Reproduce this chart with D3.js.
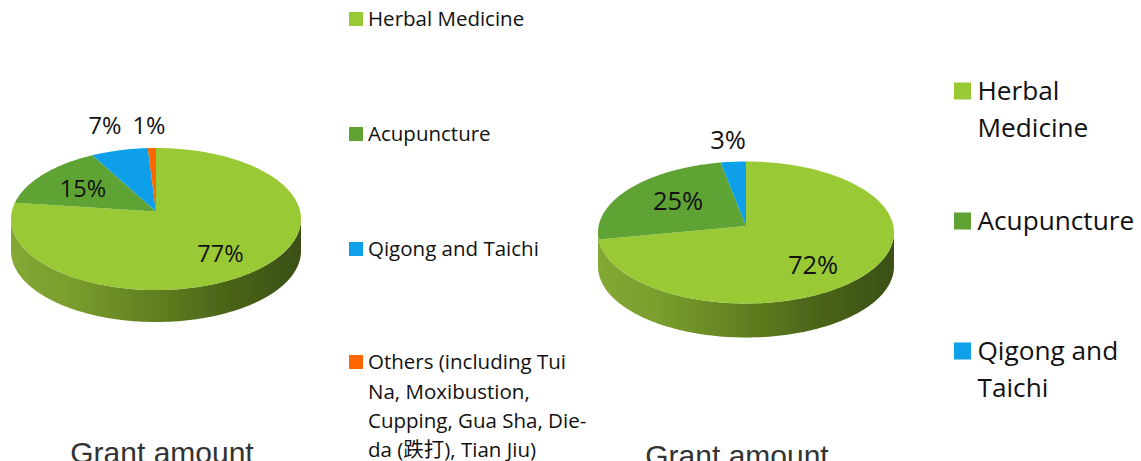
<!DOCTYPE html>
<html><head><meta charset="utf-8">
<script src="https://cdn.jsdelivr.net/npm/d3@7"></script>
<style>html,body{margin:0;padding:0;background:#fff;overflow:hidden}svg{display:block}</style>
</head><body><svg id="c" width="1141" height="461"></svg>
<script>
const categories = ["Herbal Medicine","Acupuncture","Qigong and Taichi","Others"];
const leftValues = [77,15,7,1];
const rightValues = [72,25,3];
const leftLabels = ["77%","15%","7%","1%"];
const rightLabels = ["72%","25%","3%"];
const colours = ["#99ca34","#5fa334","#0ea0e8","#ff6600"];
const titleText = "Grant amount";
const leftLegend = [
  {c:0,y:19,lines:["Herbal Medicine"]},
  {c:1,y:134,lines:["Acupuncture"]},
  {c:2,y:249,lines:["Qigong and Taichi"]},
  {c:3,y:362,lines:["Others (including Tui","Na, Moxibustion,","Cupping, Gua Sha, Die-","da (跌打), Tian Jiu)"]}
];
const rightLegend = [
  {c:0,y:91,lines:["Herbal","Medicine"]},
  {c:1,y:221,lines:["Acupuncture"]},
  {c:2,y:351,lines:["Qigong and","Taichi"]}
];
const svg = d3.select("#c");
const defs = svg.append("defs");
defs.append("filter").attr("id","soft").append("feGaussianBlur").attr("stdDeviation",0.6);

function drawPie(id,o,values,labels){
  const slices = d3.pie().sort(null).startAngle(0).endAngle(2*Math.PI)(values);
  const project = a=>{
    const u=Math.sin(a),v=Math.cos(a),d=1+o.k*v;
    return [o.cx+o.rx*u*Math.sqrt(1-o.k*o.k)/d, o.cy-o.ry*(v+o.k)/d];
  };
  const line=d3.line();
  const grad=defs.append("linearGradient").attr("id",id).attr("gradientUnits","userSpaceOnUse")
    .attr("x1",o.cx-o.rx).attr("x2",o.cx+o.rx).attr("y1",0).attr("y2",0);
  [[0,"#83a834"],[.2,"#7a9e2e"],[.5,"#607f20"],[.75,"#4a6418"],[1,"#3a4f12"]].forEach(s=>grad.append("stop").attr("offset",s[0]).attr("stop-color",s[1]));
  const g=svg.append("g").attr("filter","url(#soft)");
  const rim=d3.range(0,101).map(i=>{
    const t=Math.PI/2+Math.PI*i/100;
    return [o.cx+o.rx*Math.sin(t), o.cy-o.ry*Math.cos(t)];
  });
  const wall=rim.concat(rim.slice().reverse().map(p=>[p[0],p[1]+o.depth]));
  g.append("path").attr("d",line(wall)+"Z").attr("fill",`url(#${id})`);
  slices.forEach((s,i)=>{
    const n=Math.max(4,Math.ceil((s.endAngle-s.startAngle)*40));
    const pts=[[o.cx,o.cy-o.ry*o.k]];
    d3.range(n+1).forEach(j=>pts.push(project(s.startAngle+(s.endAngle-s.startAngle)*j/n)));
    g.append("path").attr("d",line(pts)+"Z").attr("fill",colours[i]);
  });
  labels.forEach((t,i)=>{
    svg.append("text").attr("x",o.labels[i][0]).attr("y",o.labels[i][1]).attr("text-anchor","middle")
      .attr("font-family","'Open Sans'").attr("font-size",o.fs).attr("fill","#111").text(t);
  });
  svg.append("text").attr("x",o.title[0]).attr("y",o.title[1]).attr("text-anchor","middle")
    .attr("font-family","'Liberation Sans'").attr("font-size",30).attr("fill","#333").text(titleText);
}
const leftGeom={cx:156,cy:219,rx:145,ry:71,k:0.105,depth:32,fs:23.5,
  labels:[[220.5,262],[83,197],[105,134],[149,134]],title:[162,463]};
const rightGeom={cx:746,cy:232.5,rx:148,ry:71,k:0.09,depth:34,fs:25.5,
  labels:[[813,274],[678,210],[728,149]],title:[737,466]};
drawPie("wallL",leftGeom,leftValues,leftLabels);
drawPie("wallR",rightGeom,rightValues,rightLabels);

function legend(items,o){
  items.forEach(it=>{
    svg.append("rect").attr("x",o.x).attr("y",it.y-o.s/2).attr("width",o.s).attr("height",o.s).attr("fill",colours[it.c]);
    it.lines.forEach((l,i)=>{
      svg.append("text").attr("x",o.tx).attr("y",it.y+i*o.lh+o.fs*0.36).attr("font-family","'Open Sans','Noto Sans CJK TC'")
        .attr("font-size",o.fs).attr("fill","#111").text(l);
    });
  });
}
legend(leftLegend,{x:349,s:14,tx:368,fs:20.5,lh:29.3});
legend(rightLegend,{x:954,s:17,tx:977.5,fs:26.2,lh:37});
</script></body></html>
